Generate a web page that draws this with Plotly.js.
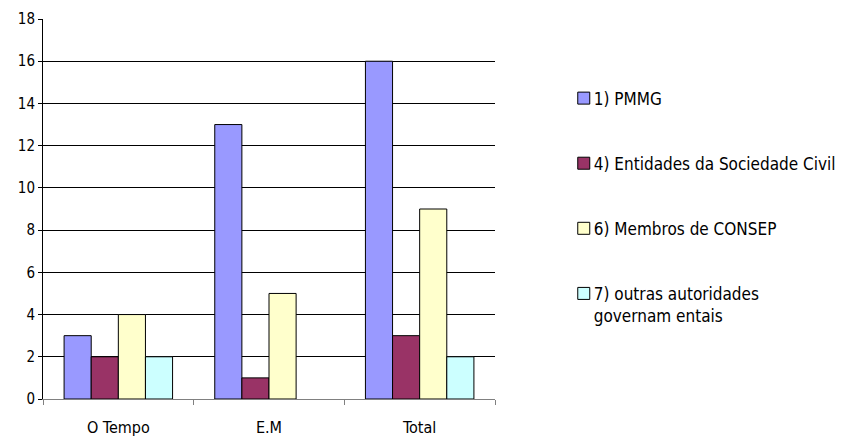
<!DOCTYPE html>
<html><head><meta charset="utf-8">
<script src="https://cdn.plot.ly/plotly-3.0.1.min.js"></script>
<style>
body{margin:0;background:#fff}#c{width:845px;height:441px}
#c .legend .legendsymbols{transform:translate(10px,0)}
</style>
</head><body><div id="c"></div>
<script>
const categories = ["O Tempo", "E.M", "Total"];
const pmmg = [3, 13, 16];
const entidades = [2, 1, 3];
const membros = [4, 5, 9];
const outras = [2, 0, 2];
const seriesNames = ["1) PMMG", "4) Entidades da Sociedade Civil", "6) Membros de CONSEP", "7) outras autoridades<br>governam entais"];
const seriesColors = ["#9999FF", "#993366", "#FFFFCC", "#CCFFFF"];
const seriesValues = [pmmg, entidades, membros, outras];

const FONT = "'DejaVu Sans Condensed', 'Liberation Sans Narrow', 'Arial Narrow', 'Liberation Sans', Arial, sans-serif";
const traces = seriesValues.map((v, i) => ({
  type: 'bar', x: categories, y: v, name: seriesNames[i],
  legendgroup: 'g' + i,
  marker: {color: seriesColors[i], line: {color: '#000', width: v.map(d => d === 0 ? 0 : 1)}}
}));

const layout = {
  width: 845, height: 441,
  margin: {l: 43, r: 350, t: 19, b: 42, autoexpand: false},
  paper_bgcolor: '#fff', plot_bgcolor: '#fff',
  barmode: 'group', bargap: 0.28, bargroupgap: 0,
  font: {family: FONT, size: 14, color: '#000'},
  showlegend: true,
  legend: {x: 1.13, y: 0.838, xanchor: 'left', yanchor: 'top', traceorder: 'grouped', valign: 'top',
    tracegroupgap: 40, font: {family: FONT, size: 17}, itemwidth: 30},
  xaxis: {type: 'category', tickson: 'boundaries', ticks: 'outside', ticklen: 5, tickcolor: '#808080',
    showline: true, linecolor: '#808080', linewidth: 1, showgrid: false, fixedrange: true,
    ticklabelstandoff: 14, tickfont: {family: FONT, size: 16}},
  yaxis: {range: [0, 18], dtick: 2, tick0: 0, showgrid: true, gridcolor: '#000', gridwidth: 1,
    zeroline: false, showline: true, linecolor: '#000', ticks: 'outside', ticklen: 4, tickcolor: '#000',
    tickfont: {family: FONT, size: 15}}
};
Plotly.newPlot('c', traces, layout, {displayModeBar: false, staticPlot: true});
</script></body></html>
